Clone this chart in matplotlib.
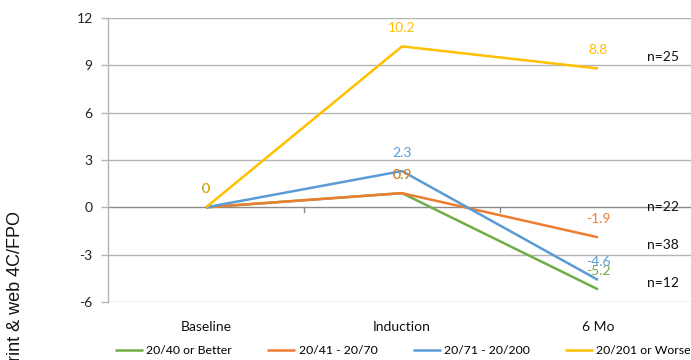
import matplotlib
matplotlib.use("Agg")
import matplotlib.pyplot as plt

# Visual acuity change by baseline acuity group
categories = ["Baseline", "Induction", "6 Mo"]
series_names = ["20/40 or Better", "20/41 - 20/70", "20/71 - 20/200", "20/201 or Worse"]
better_2040 = [0, 0.9, -5.2]
range_2041_2070 = [0, 0.9, -1.9]
range_2071_20200 = [0, 2.3, -4.6]
worse_20201 = [0, 10.2, 8.8]
group_sizes = ["n=25", "n=22", "n=38", "n=12"]
yticks = [-6, -3, 0, 3, 6, 9, 12]

colors = ["#70AD47", "#ED7D31", "#5B9BD5", "#FFC000"]
series = [better_2040, range_2041_2070, range_2071_20200, worse_20201]

plt.rcParams["font.family"] = ["Lato", "DejaVu Sans"]

W, H = 691, 360
fig = plt.figure(figsize=(W / 100, H / 100), dpi=100)
ax = fig.add_axes([108 / W, 1 - 302 / H, 588 / W, 284 / H])

x = list(range(len(categories)))
ax.set_xlim(-0.5, len(categories) - 0.5)
ax.set_ylim(-6, 12)

grid_c = "#B4B4B4"
axis_c = "#8C8C8C"
for yv in yticks:
    if yv != 0:
        ax.axhline(yv, color=grid_c, lw=1.0, zorder=1)
ax.axhline(0, color=axis_c, lw=1.0, zorder=1)
# category boundary ticks on the zero axis
for b in [0.5, 1.5]:
    ax.plot([b, b], [0, -0.28], color=axis_c, lw=1.0, zorder=1)

for s in ["top", "right", "bottom"]:
    ax.spines[s].set_visible(False)
ax.spines["left"].set_color(grid_c)
ax.spines["left"].set_linewidth(1.0)

ax.set_yticks(yticks)
ax.set_yticklabels([str(v) for v in yticks], fontsize=10, color="#222222")
ax.tick_params(axis="y", length=5, color=grid_c, width=1.0, pad=6)
ax.set_xticks(x)
ax.set_xticklabels(categories, fontsize=10, color="#111111")
ax.tick_params(axis="x", length=0, pad=14)

for name, vals, c in zip(series_names, series, colors):
    ax.plot(x, vals, color=c, lw=1.8, label=name, zorder=3, solid_capstyle="butt")

for vals, c in zip(series, colors):
    for xi, v in zip(x, vals):
        ax.annotate(f"{v:g}", (xi, v), xytext=(0, 13), textcoords="offset points",
                    ha="center", va="center", fontsize=10, color=c, zorder=4)

n_y = [9.5, 0.0, -2.4, -4.8]
for lbl, yv in zip(group_sizes, n_y):
    ax.text(2.25, yv, lbl, ha="left", va="center", fontsize=10, color="#111111")

leg = fig.legend(loc="center", bbox_to_anchor=(403 / W, 1 - 351 / H), ncol=4,
                 frameon=False, fontsize=8.8, handlelength=2.3, handletextpad=0.25,
                 columnspacing=2.9)

fig.text(16 / W, 1 - 211 / H, "Print & web 4C/FPO", rotation=90, ha="center", va="top",
         fontsize=13, family=["Liberation Sans", "DejaVu Sans"], color="#111111")

fig.savefig("out.png", dpi=100)
